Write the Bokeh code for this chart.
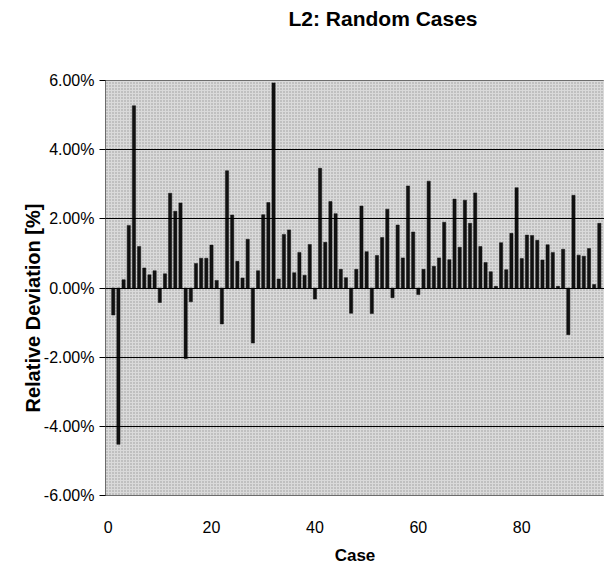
from bokeh.plotting import figure
from bokeh.models import FixedTicker, PrintfTickFormatter, BoxAnnotation, Title, ColumnDataSource, Range1d
from bokeh.embed import file_html
from bokeh.resources import INLINE

title_text = "L2: Random Cases"
x_label = "Case"
y_label = "Relative Deviation [%]"
x_ticks = [0, 20, 40, 60, 80]
y_ticks = [-6, -4, -2, 0, 2, 4, 6]

cases = list(range(1, 96))
deviation = [
    -0.78, -4.52, 0.24, 1.81, 5.27, 1.20, 0.58, 0.38, 0.50, -0.42,
    0.41, 2.74, 2.22, 2.46, -2.04, -0.40, 0.71, 0.86, 0.86, 1.24,
    0.22, -1.04, 3.39, 2.11, 0.77, 0.29, 1.41, -1.59, 0.50, 2.12,
    2.47, 5.93, 0.26, 1.55, 1.68, 0.44, 1.03, 0.37, 1.26, -0.32,
    3.46, 1.32, 2.50, 2.15, 0.54, 0.30, -0.73, 0.54, 2.37, 1.05,
    -0.74, 0.94, 1.46, 2.28, -0.28, 1.82, 0.87, 2.95, 1.62, -0.19,
    0.54, 3.09, 0.63, 0.87, 1.90, 0.82, 2.57, 1.18, 2.54, 1.87,
    2.75, 1.20, 0.74, 0.47, 0.05, 1.31, 0.53, 1.58, 2.90, 0.85,
    1.53, 1.52, 1.38, 0.81, 1.25, 1.03, 0.05, 1.12, -1.35, 2.68,
    0.95, 0.92, 1.14, 0.10, 1.87,
]

src = ColumnDataSource(dict(x=cases, top=deviation))

p = figure(width=604, height=567, output_backend="svg", toolbar_location=None,
           x_range=Range1d(-0.5, 96.0), y_range=Range1d(-6, 6),
           min_border_left=105, min_border_right=0, min_border_top=80, min_border_bottom=67)

p.title.text = title_text
p.title.align = "left"
p.title.offset = 183
p.title.standoff = 0
p.title.text_font = "Liberation Sans"
p.title.text_font_size = "21px"
p.title.text_font_style = "bold"
p.title.text_color = "black"

spacer = Title(text=" ", text_font_size="30px", standoff=16)
p.add_layout(spacer, "above")

p.background_fill_color = "#cfcfcf"
p.border_fill_color = "white"
p.outline_line_color = "black"
p.outline_line_width = 1

bg = BoxAnnotation(left=-10, right=200, bottom=-10, top=10, level="underlay",
                   fill_color="#dadada", fill_alpha=1.0, line_alpha=0,
                   hatch_pattern="dot", hatch_color="#6a6a6a", hatch_scale=3, hatch_alpha=0.6)
p.add_layout(bg)

p.vbar(x="x", top="top", bottom=0, width=0.62, source=src, fill_color="#111111", line_color="#111111", line_width=0.5)

p.xgrid.visible = False
p.ygrid.ticker = FixedTicker(ticks=y_ticks)
p.ygrid.grid_line_color = "black"
p.ygrid.grid_line_width = 1
p.ygrid.level = "glyph"

p.yaxis.ticker = FixedTicker(ticks=y_ticks)
p.yaxis.formatter = PrintfTickFormatter(format="%.2f%%")
p.xaxis.ticker = FixedTicker(ticks=x_ticks)

for ax in (p.xaxis[0], p.yaxis[0]):
    ax.axis_line_color = None
    ax.minor_tick_line_color = None
    ax.major_label_text_font = "Liberation Sans"
    ax.major_label_text_font_size = "16px"
    ax.major_label_text_color = "black"
    ax.axis_label_text_font = "Liberation Sans"
    ax.axis_label_text_font_size = "17px"
    ax.axis_label_text_font_style = "bold"
    ax.axis_label_text_color = "black"

p.xaxis.major_tick_line_color = None
p.xaxis.major_label_standoff = 19
p.xaxis.axis_label = x_label
p.xaxis.axis_label_standoff = 10

p.yaxis.major_tick_in = 0
p.yaxis.major_tick_out = 6
p.yaxis.major_tick_line_color = "black"
p.yaxis.major_label_standoff = 5

ytitle = Title(text=y_label, align="left", offset=83, standoff=-6,
               text_font="Liberation Sans", text_font_size="20px", text_font_style="bold",
               text_color="black")
p.add_layout(ytitle, "left")

open("out.html", "w").write(file_html(p, INLINE))
